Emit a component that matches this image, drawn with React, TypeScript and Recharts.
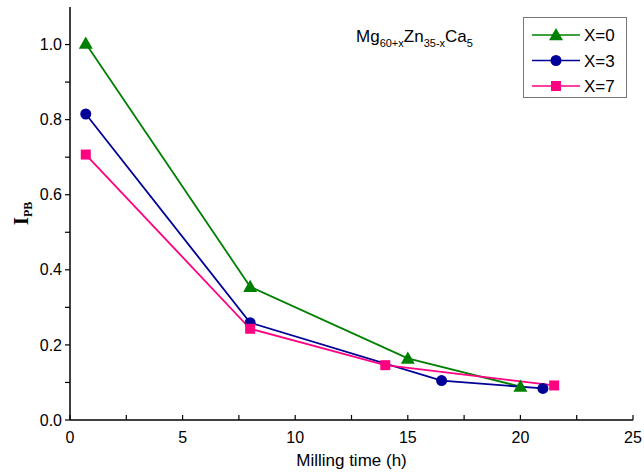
import React from 'react';
import {
  LineChart, Line, XAxis, YAxis, Customized, Label
} from 'recharts';

// milling time (h) and I_PB per composition
const X0_TIME = [0.7, 8, 15, 20];
const X0_IPB = [1.003, 0.355, 0.164, 0.089];
const X3_TIME = [0.7, 8, 16.5, 21];
const X3_IPB = [0.815, 0.259, 0.105, 0.084];
const X7_TIME = [0.7, 8, 14, 21.5];
const X7_IPB = [0.707, 0.243, 0.146, 0.092];

const X_TICKS = [0, 2.5, 5, 7.5, 10, 12.5, 15, 17.5, 20, 22.5, 25];
const Y_TICKS = [0, 0.1, 0.2, 0.3, 0.4, 0.5, 0.6, 0.7, 0.8, 0.9, 1.0];

const FONT = 'Arial, "Liberation Sans", sans-serif';

const toRows = (t: number[], v: number[]) => t.map((time, i) => ({ time, ipb: v[i] }));

const SERIES = [
  { name: 'X=0', color: '#008000', shape: 'triangle', data: toRows(X0_TIME, X0_IPB) },
  { name: 'X=3', color: '#000099', shape: 'circle', data: toRows(X3_TIME, X3_IPB) },
  { name: 'X=7', color: '#FF0080', shape: 'square', data: toRows(X7_TIME, X7_IPB) },
];

function Marker({ cx, cy, shape, color }: any) {
  if (cx == null || cy == null) return null;
  if (shape === 'triangle') {
    const s = 7;
    return <polygon points={`${cx},${cy - s} ${cx - s},${cy + s * 0.75} ${cx + s},${cy + s * 0.75}`} fill={color} />;
  }
  if (shape === 'circle') return <circle cx={cx} cy={cy} r={5.5} fill={color} />;
  return <rect x={cx - 5} y={cy - 5} width={10} height={10} fill={color} />;
}

// legend box drawn in svg, top-right inside the frame
const LegendBox = () => (
  <g>
    <rect x={523.5} y={17.5} width={103} height={80} fill="#fff" stroke="#777" />
    {SERIES.map((s, i) => {
      const y = 35 + i * 25.5;
      return (
        <g key={s.name}>
          <line x1={532} y1={y} x2={580} y2={y} stroke={s.color} strokeWidth={1.5} />
          <Marker cx={556} cy={y} shape={s.shape} color={s.color} />
          <text x={584} y={y + 6} fontFamily={FONT} fontSize={17} fill="#000">{s.name}</text>
        </g>
      );
    })}
  </g>
);

const Formula = () => (
  <text x={356} y={42} fontFamily={FONT} fontSize={17} fill="#000">
    Mg<tspan fontSize={11} dy={5}>60+x</tspan>
    <tspan dy={-5}>Zn</tspan><tspan fontSize={11} dy={5}>35-x</tspan>
    <tspan dy={-5}>Ca</tspan><tspan fontSize={11} dy={5}>5</tspan>
  </text>
);

const YTitle = ({ viewBox }: any) => {
  const cy = viewBox.y + viewBox.height / 2;
  return (
    <text x={28} y={cy} transform={`rotate(-90 28 ${cy})`} textAnchor="middle"
      fontFamily='"Liberation Serif", "Times New Roman", serif' fontWeight="bold" fontSize={21} fill="#000">
      I<tspan fontSize={12} dy={4}>PB</tspan>
    </text>
  );
};

export default function App() {
  const tick = { fill: '#000', fontSize: 16, fontFamily: FONT };
  return (
    <div style={{ position: 'absolute', left: 0, top: 0, background: '#fff' }}>
      <LineChart width={644} height={473} margin={{ top: 7, right: 11, left: 0, bottom: 0 }}>
        <XAxis
          dataKey="time" type="number" domain={[0, 25]} ticks={X_TICKS}
          allowDuplicatedCategory={false} height={53}
          tickFormatter={(v) => (v % 5 === 0 ? String(v) : '')}
          tick={tick} tickSize={-5} tickMargin={17}
          axisLine={{ stroke: '#000', strokeWidth: 1.5 }} tickLine={{ stroke: '#000', strokeWidth: 1.2 }}
        >
          <Label value="Milling time (h)" position="insideBottom" offset={7}
            style={{ fill: '#000', fontSize: 17, fontFamily: FONT }} />
        </XAxis>
        <XAxis xAxisId="top" orientation="top" type="number" domain={[0, 25]} tick={false} tickLine={false}
          height={0} axisLine={{ stroke: '#000', strokeWidth: 1.5 }} />
        <YAxis
          type="number" domain={[0, 1.1]} ticks={Y_TICKS} width={70}
          tickFormatter={(v) => (Math.round(v * 10) % 2 === 0 ? v.toFixed(1) : '')}
          tick={tick} tickSize={5} tickMargin={3}
          axisLine={{ stroke: '#000', strokeWidth: 1.5 }} tickLine={{ stroke: '#000', strokeWidth: 1.2 }}
        >
          <Label content={<YTitle />} />
        </YAxis>
        <YAxis yAxisId="right" orientation="right" domain={[0, 1.1]} tick={false} tickLine={false}
          width={0} axisLine={{ stroke: '#000', strokeWidth: 1.5 }} />
        {SERIES.map((s) => (
          <Line
            key={s.name} data={s.data} dataKey="ipb" name={s.name} type="linear"
            stroke={s.color} strokeWidth={1.8} isAnimationActive={false}
            dot={(p: any) => <Marker key={`${s.name}-${p.index}`} cx={p.cx} cy={p.cy} shape={s.shape} color={s.color} />}
            activeDot={false}
          />
        ))}
        <Customized component={<LegendBox />} />
        <Customized component={<Formula />} />
      </LineChart>
    </div>
  );
}
